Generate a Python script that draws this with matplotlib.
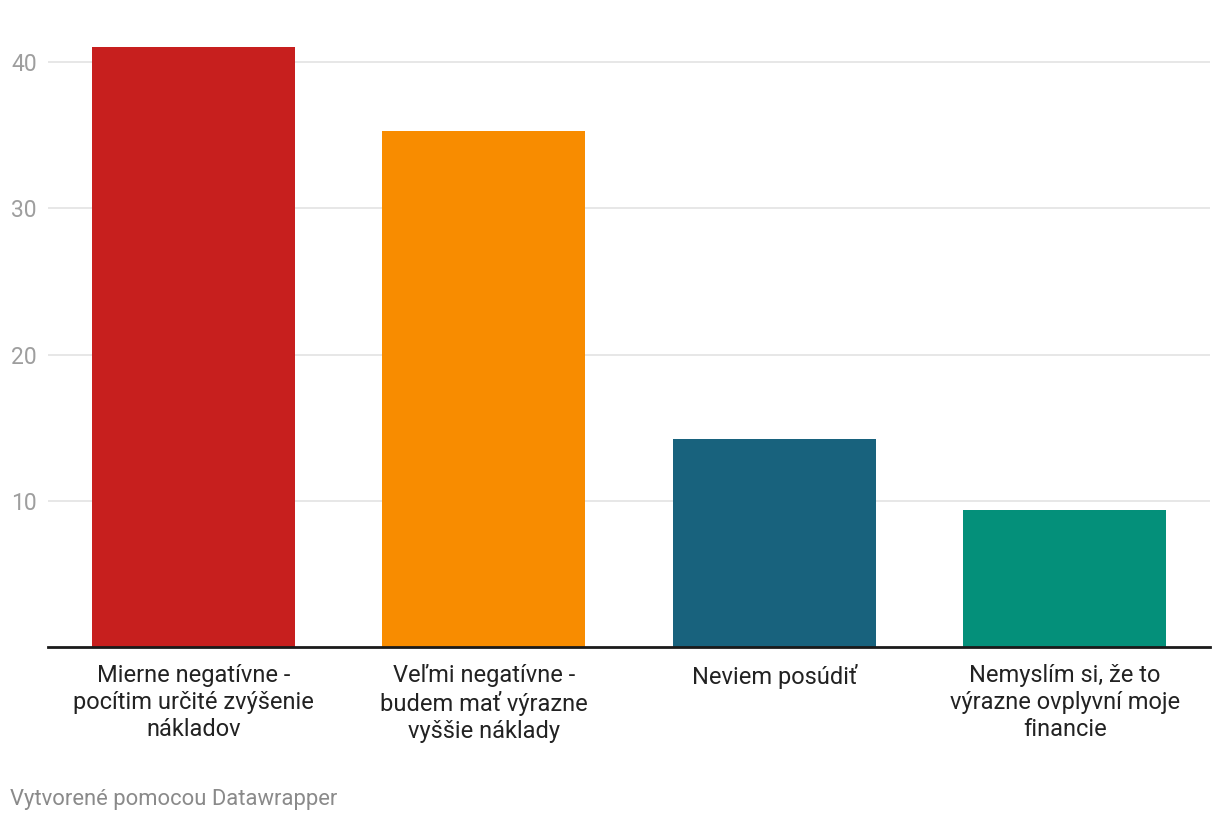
import matplotlib.pyplot as plt

plt.rcParams['font.family'] = ['Roboto', 'DejaVu Sans']

categories = [
    "Mierne negatívne -\npocítim určité zvýšenie\nnákladov",
    "Veľmi negatívne -\nbudem mať výrazne\nvyššie náklady",
    "Neviem posúdiť",
    "Nemyslím si, že to\nvýrazne ovplyvní moje\nfinancie",
]
values = [41.0, 35.3, 14.2, 9.4]
colors = ["#c71f1e", "#f88c00", "#18627d", "#04907a"]
yticks = [10, 20, 30, 40]

fig = plt.figure(figsize=(12.2, 8.24), dpi=100)
ax = fig.add_axes([48 / 1220, 1 - 647 / 824, (1210 - 48) / 1220, (647 - 47.4) / 824])

x = range(len(categories))
ax.bar(x, values, width=0.7, color=colors, zorder=2)

ax.set_xlim(-0.5, 3.5)
ax.set_ylim(0, 41)
ax.set_yticks(yticks)
ax.set_yticklabels([str(t) for t in yticks])
ax.grid(axis='y', color='#e3e3e3', linewidth=1.2, zorder=0)
ax.set_xticks(list(x))
ax.set_xticklabels(categories, fontsize=17, color='#222222', linespacing=1.23, va='top')

for side in ['top', 'right', 'left']:
    ax.spines[side].set_visible(False)
ax.spines['bottom'].set_color('#1a1a1a')
ax.spines['bottom'].set_linewidth(2)
ax.spines['bottom'].set_zorder(3)

ax.tick_params(axis='y', length=0, pad=8, labelsize=16.5, labelcolor='#9e9e9e')
ax.tick_params(axis='x', length=0, pad=12)

fig.text(10 / 1220, 1 - 800 / 824, "Vytvorené pomocou Datawrapper",
         fontsize=15.8, color='#8a8a8a', va='center', ha='left')

fig.savefig('out.png', dpi=100)
